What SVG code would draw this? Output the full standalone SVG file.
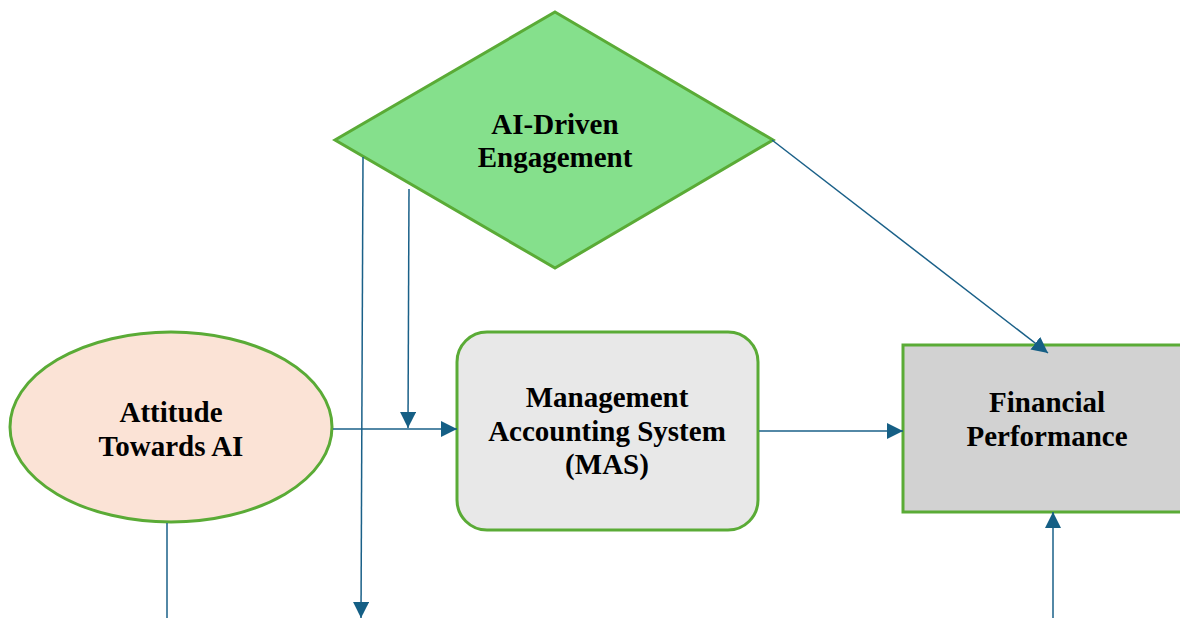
<svg xmlns="http://www.w3.org/2000/svg" width="1180" height="618" viewBox="0 0 1180 618">
<defs>
<style>
.shape{stroke:#5aab36;stroke-width:3}
.lbl{font-family:"Liberation Serif","Times New Roman",serif;font-weight:bold;font-size:29px;fill:#000;text-anchor:middle}
.conn{stroke:#1a6088;stroke-width:1.5;fill:none}
</style>
<marker id="ah" markerUnits="userSpaceOnUse" markerWidth="18" markerHeight="18" viewBox="0 0 18 18" refX="16" refY="8" orient="auto">
<path d="M0,0 L16,8 L0,16 Z" fill="#155f85"/>
</marker>
</defs>
<rect width="1180" height="618" fill="#ffffff"/>
<g id="ai-driven-engagement">
<polygon class="shape" points="555,12 773,140 555,268 335,140" fill="#85e08c"/>
<text class="lbl" x="555" y="134">AI-Driven</text>
<text class="lbl" x="555" y="167">Engagement</text>
</g>
<g id="attitude-towards-ai">
<ellipse class="shape" cx="171" cy="427" rx="161" ry="95" fill="#fbe3d6"/>
<text class="lbl" x="171" y="422">Attitude</text>
<text class="lbl" x="171" y="456">Towards AI</text>
</g>
<g id="mas">
<rect class="shape" x="457" y="332" width="301" height="198" rx="30" ry="30" fill="#e8e8e8"/>
<text class="lbl" x="607" y="407">Management</text>
<text class="lbl" x="607" y="441">Accounting System</text>
<text class="lbl" x="607" y="474">(MAS)</text>
</g>
<g id="financial-performance">
<rect class="shape" x="903" y="345" width="290" height="167" fill="#d2d2d2"/>
<text class="lbl" x="1047" y="412">Financial</text>
<text class="lbl" x="1047" y="446">Performance</text>
</g>
<g id="connectors">
<line class="conn" x1="333" y1="429" x2="457" y2="429" marker-end="url(#ah)"/>
<line class="conn" x1="409" y1="189" x2="408" y2="428" marker-end="url(#ah)"/>
<line class="conn" x1="363" y1="157" x2="361" y2="618" marker-end="url(#ah)"/>
<line class="conn" x1="759" y1="431" x2="903" y2="431" marker-end="url(#ah)"/>
<line class="conn" x1="772" y1="140" x2="1048" y2="353" marker-end="url(#ah)"/>
<line class="conn" x1="1053" y1="618" x2="1053" y2="512" marker-end="url(#ah)"/>
<line class="conn" x1="167" y1="523" x2="167" y2="618"/>
</g>
</svg>
